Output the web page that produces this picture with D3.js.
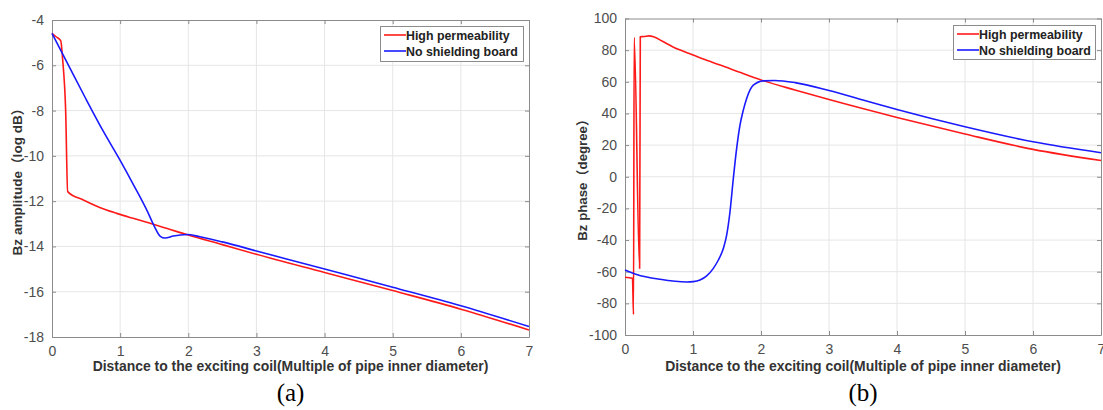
<!DOCTYPE html>
<html><head><meta charset="utf-8">
<script src="https://cdn.jsdelivr.net/npm/d3@7"></script>
<style>
html,body{margin:0;padding:0;background:#fff;}
svg{display:block;}
</style></head>
<body>
<svg id="chart" width="1103" height="410"></svg>
<script>
// ---------- DATA ----------
const xTicks = [0,1,2,3,4,5,6,7];
const ampTicks = [-18,-16,-14,-12,-10,-8,-6,-4];
const phaseTicks = [-100,-80,-60,-40,-20,0,20,40,60,80,100];
const seriesNames = ["High permeability","No shielding board"];

const ampHigh = [[0,-4.59],[0.06,-4.74],[0.128,-4.91],[0.157,-5.77],[0.2,-7.97],[0.23,-11.58],[0.46,-11.95],[0.7,-12.28],[0.95,-12.54],[1.19,-12.76],[1.44,-12.98],[1.68,-13.2],[2.0,-13.5],[2.5,-13.92],[3,-14.35],[4,-15.15],[5,-15.95],[6,-16.77],[7,-17.69]];
const ampNone = [[0,-4.59],[0.25,-6.05],[0.5,-7.5],[0.75,-8.9],[1.0,-10.2],[1.2,-11.3],[1.4,-12.45],[1.5,-13.1],[1.585,-13.54],[1.66,-13.63],[1.78,-13.54],[1.98,-13.47],[2.17,-13.57],[2.5,-13.8],[3,-14.2],[4,-15.0],[5,-15.8],[6,-16.62],[7,-17.54]];

const phaseHigh = [[0,-63.5],[0.11,-64.2],[0.125,-87],[0.135,88],[0.215,-58],[0.225,88.5],[0.28,88.6],[0.35,89],[0.42,88.5],[0.55,85.6],[0.7,82.2],[0.85,79.4],[1.0,76.9],[1.2,73.6],[1.4,70.6],[1.7,65.8],[2.0,61.2],[2.5,54.8],[3,48.8],[4,37.5],[5,27],[6,17.3],[7,10.3]];
const phaseNone = [[0,-58.9],[0.17,-61.7],[0.515,-64.8],[0.907,-66.5],[1.005,-66.3],[1.103,-65.3],[1.201,-62.7],[1.299,-57.9],[1.373,-52.6],[1.446,-45.3],[1.495,-36.9],[1.544,-22.1],[1.593,-1.1],[1.642,17.9],[1.691,32.6],[1.74,42.1],[1.789,49.5],[1.887,57.9],[2.034,60.6],[2.2,60.8],[2.5,59.5],[3,54.5],[3.5,48.5],[4,42.5],[5,31.6],[6,22.1],[7,15.2]];

// ---------- LAYOUT ----------
const colors = ["#ff1a1a","#1a1aff"];
const panels = [
  {l:52, r:529, t:20, b:337, yDomain:[-18,-4], yTicks:ampTicks, series:[ampHigh,ampNone],
   ylabel:["Bz amplitude","（","log dB","）"], ylabelX:18, ylabelLen:154, xlabelLen:396, tag:"(a)",
   legend:{x:380,y:26,w:143,h:35}},
  {l:625, r:1101, t:18.5, b:335, yDomain:[-100,100], yTicks:phaseTicks, series:[phaseHigh,phaseNone],
   ylabel:["Bz phase","（","degree","）"], ylabelX:583, ylabelLen:128, xlabelLen:396, tag:"(b)",
   legend:{x:953,y:25,w:142,h:34}}
];

const svg = d3.select("#chart");
const font = "'Liberation Sans', Arial, Helvetica, sans-serif";
const cjk = "'Noto Sans CJK SC', sans-serif";

function fitText(sel, target){
  const n = sel.node();
  const fs = parseFloat(sel.attr("font-size"));
  const len = n.getComputedTextLength();
  if(len>0) sel.attr("font-size", (fs*target/len).toFixed(2));
}

panels.forEach(p=>{
  const g = svg.append("g");
  const x = d3.scaleLinear().domain([0,7]).range([p.l,p.r]);
  const y = d3.scaleLinear().domain(p.yDomain).range([p.b,p.t]);

  // grid
  g.append("g").selectAll("line").data(xTicks.slice(1,-1)).join("line")
    .attr("x1",d=>x(d)).attr("x2",d=>x(d)).attr("y1",p.t).attr("y2",p.b)
    .attr("stroke","#e6e6e6").attr("stroke-width",1);
  g.append("g").selectAll("line").data(p.yTicks.slice(1,-1)).join("line")
    .attr("y1",d=>y(d)).attr("y2",d=>y(d)).attr("x1",p.l).attr("x2",p.r)
    .attr("stroke","#e6e6e6").attr("stroke-width",1);

  // axes with inside ticks
  const fmt = d=>String(d);
  const axB = d3.axisBottom(x).tickValues(xTicks).tickFormat(fmt).tickSizeInner(-4).tickSizeOuter(0).tickPadding(9);
  const axT = d3.axisTop(x).tickValues(xTicks).tickSizeInner(-4).tickSizeOuter(0).tickFormat("");
  const axL = d3.axisLeft(y).tickValues(p.yTicks).tickFormat(fmt).tickSizeInner(-4).tickSizeOuter(0).tickPadding(8);
  const axR = d3.axisRight(y).tickValues(p.yTicks).tickSizeInner(-4).tickSizeOuter(0).tickFormat("");
  const styleAx = s=>{
    s.select(".domain").attr("stroke","#8c8c8c");
    s.selectAll(".tick line").attr("stroke","#8c8c8c");
    s.selectAll(".tick text").attr("fill","#4d4d4d").attr("font-family",font).attr("font-size",14);
  };
  g.append("g").attr("transform",`translate(0,${p.b})`).call(axB).call(styleAx);
  g.append("g").attr("transform",`translate(0,${p.t})`).call(axT).call(styleAx);
  g.append("g").attr("transform",`translate(${p.l},0)`).call(axL).call(styleAx);
  g.append("g").attr("transform",`translate(${p.r},0)`).call(axR).call(styleAx);

  // lines
  const line = d3.line().x(d=>x(d[0])).y(d=>y(d[1])).curve(d3.curveMonotoneX);
  p.series.forEach((s,i)=>{
    g.append("path").datum(s).attr("d",line).attr("fill","none")
      .attr("stroke",colors[i]).attr("stroke-width",1.6).attr("stroke-linejoin","round");
  });

  // x label
  const xl = g.append("text").attr("x",(p.l+p.r)/2).attr("y",371).attr("text-anchor","middle")
    .attr("font-family",font).attr("font-weight","bold").attr("font-size",12).attr("fill","#333")
    .text("Distance to the exciting coil(Multiple of pipe inner diameter)");
  fitText(xl,p.xlabelLen);

  // y label
  const cy = (p.t+p.b)/2;
  const yl = g.append("text").attr("transform",`translate(${p.ylabelX+4},${cy}) rotate(-90)`)
    .attr("text-anchor","middle").attr("font-family",font).attr("font-weight","bold")
    .attr("font-size",12).attr("fill","#333");
  p.ylabel.forEach((t,i)=>{
    yl.append("tspan").attr("font-family", (i%2===1)? cjk : font).text(t);
  });
  fitText(yl,p.ylabelLen);

  // panel tag
  g.append("text").attr("x",(p.l+p.r)/2).attr("y",401).attr("text-anchor","middle")
    .attr("font-family","'Liberation Serif','Times New Roman',serif").attr("font-size",25)
    .attr("fill","#000").text(p.tag);

  // legend
  const L = p.legend;
  const lg = g.append("g");
  lg.append("rect").attr("x",L.x+0.5).attr("y",L.y+0.5).attr("width",L.w).attr("height",L.h)
    .attr("fill","#fff").attr("stroke","#8c8c8c").attr("stroke-width",1);
  const texts = [];
  seriesNames.forEach((nm,i)=>{
    const yy = L.y + 9 + i*16;
    lg.append("line").attr("x1",L.x+4).attr("x2",L.x+26).attr("y1",yy).attr("y2",yy)
      .attr("stroke",colors[i]).attr("stroke-width",1.6);
    texts.push(lg.append("text").attr("x",L.x+26).attr("y",yy+4.5).attr("font-family",font)
      .attr("font-weight","bold").attr("font-size",12).attr("fill","#222").text(nm));
  });
  fitText(texts[1],112);
  texts[0].attr("font-size",texts[1].attr("font-size"));
});
</script>
</body></html>
